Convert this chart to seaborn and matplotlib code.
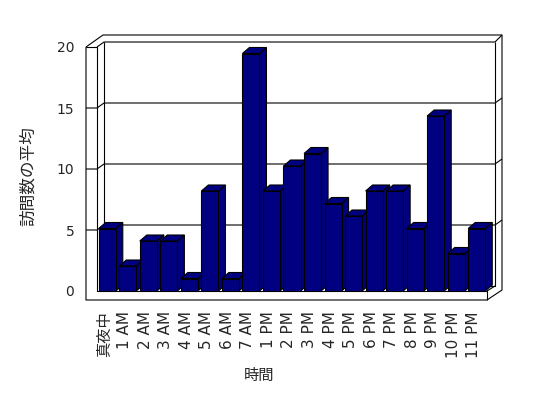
import matplotlib
matplotlib.use("Agg")
import matplotlib.pyplot as plt
import seaborn as sns
import numpy as np
from matplotlib.patches import Polygon
from matplotlib.transforms import ScaledTranslation

# ---- data ----
hours = ['真夜中', '1 AM', '2 AM', '3 AM', '4 AM', '5 AM', '6 AM', '7 AM',
         '1 PM', '2 PM', '3 PM', '4 PM', '5 PM', '6 PM', '7 PM', '8 PM',
         '9 PM', '10 PM', '11 PM']
visits = [5, 2, 4, 4, 1, 8, 1, 19, 8, 10, 11, 7, 6, 8, 8, 5, 14, 3, 5]
y_ticks = [0, 5, 10, 15, 20]
x_title = '時間'
y_title = '訪問数の平均'

sns.set_style("white")
plt.rcParams['font.family'] = ['DejaVu Sans', 'Noto Sans CJK JP']

W, H = 548, 398
fig = plt.figure(figsize=(W / 100, H / 100), dpi=100)
fig.patch.set_facecolor('white')

def fx(px):
    return px / W

def fy(py):
    return 1 - py / H

LW = 0.8
NAVY = '#000080'
DX, DY = 7, -6   # depth offset in image pixels

# background axes in image-pixel coordinates (frame / walls)
ax_bg = fig.add_axes([0, 0, 1, 1], zorder=0)
ax_bg.set_xlim(0, W)
ax_bg.set_ylim(H, 0)
ax_bg.axis('off')

def line(pts, **kw):
    xs, ys = zip(*pts)
    ax_bg.plot(xs, ys, color='black', lw=LW, solid_capstyle='butt', **kw)

# walls / floor geometry (image pixels)
FL, FR = 97, 487      # front plane x range
F0 = 291              # front floor top
FB = 300              # floor bottom
WO = 86               # left wall outer
BL, BR = 104, 495     # back wall inner x
BT, B0 = 42, 286      # back wall top, back floor
OT, OR = 35, 502      # outer top, outer right
bscale = (B0 - BT) / 20.0
fscale = (F0 - 47) / 20.0

line([(WO, 47), (WO, FB), (FR, FB), (OR, 290), (OR, OT), (103, OT), (WO, 47)])
line([(WO, 47), (FL, 47), (FL, F0), (FR, F0), (FR, FB)])
line([(FL, 47), (BL, BT), (BR, BT), (OR, OT)])
line([(BL, BT), (BL, B0), (BR, B0), (BR, BT)])
line([(FR, F0), (BR, B0)])
for v in y_ticks[1:-1]:
    yb = B0 - v * bscale
    yf = F0 - v * fscale
    line([(WO, yf), (FL, yf), (BL, yb), (BR, yb), (OR, yb - 5)])

# bar axes: front plane of the bars
ax = fig.add_axes([fx(FL), fy(F0), (FR - FL) / W, 250 / H], zorder=1)
ax.patch.set_alpha(0)
sns.barplot(x=hours, y=visits, order=hours, color=NAVY, saturation=1,
            edgecolor='black', linewidth=LW, width=0.83, errorbar=None, ax=ax)
ax.set_xlim(-0.5, len(hours) - 0.5)
ax.set_ylim(0, 20)
for s in ax.spines.values():
    s.set_visible(False)
ax.set_yticks([])
ax.tick_params(axis='x', which='major', length=0, pad=14.4, labelsize=11,
               labelrotation=90)
ax.set_xticks(np.arange(0.5, len(hours) - 1, 1), minor=True)
ax.tick_params(axis='x', which='minor', length=6.5, width=LW, direction='out',
               color='black')
for lab in ax.get_xticklabels():
    lab.set_transform(lab.get_transform() +
                      ScaledTranslation(-3 / 100, 0, fig.dpi_scale_trans))

to_px = ax.transData + ax_bg.transData.inverted()
for i, p in enumerate(ax.patches):
    x0 = p.get_x()
    x1 = x0 + p.get_width()
    h = p.get_height()
    (ax0, ay0), (ax1, ay1) = to_px.transform([(x0, 0), (x1, h)])
    side = Polygon([(ax1, ay0), (ax1, ay1), (ax1 + DX, ay1 + DY), (ax1 + DX, ay0 + DY)],
                   closed=True, facecolor=NAVY, edgecolor='black', lw=LW,
                   transform=ax_bg.transData, clip_on=False, zorder=2 + 2 * i)
    top = Polygon([(ax0, ay1), (ax1, ay1), (ax1 + DX, ay1 + DY), (ax0 + DX, ay1 + DY)],
                  closed=True, facecolor=NAVY, edgecolor='black', lw=LW,
                  transform=ax_bg.transData, clip_on=False, zorder=2 + 2 * i)
    ax.add_patch(side)
    ax.add_patch(top)
    p.set_zorder(3 + 2 * i)

ax.set_xlabel(x_title, fontsize=11)
ax.xaxis.set_label_coords((259 - FL) / (FR - FL), -(368 - F0) / 250)
ax.set_ylabel('')

# left wall front: y scale ticks
ax_y = fig.add_axes([fx(WO), fy(F0), (FL - WO) / W, (F0 - 47) / H], zorder=1)
ax_y.patch.set_alpha(0)
for s in ax_y.spines.values():
    s.set_visible(False)
ax_y.set_xticks([])
ax_y.set_ylim(0, 20)
ax_y.set_yticks(y_ticks)
ax_y.set_yticklabels([str(t) for t in y_ticks])
ax_y.tick_params(axis='y', length=0, pad=8.5, labelsize=10)
ax_y.set_ylabel(y_title, fontsize=12)
ax_y.yaxis.set_label_coords((37 - WO) / (FL - WO), (F0 - 176) / (F0 - 47))

fig.savefig('out.png', dpi=100, facecolor='white')
